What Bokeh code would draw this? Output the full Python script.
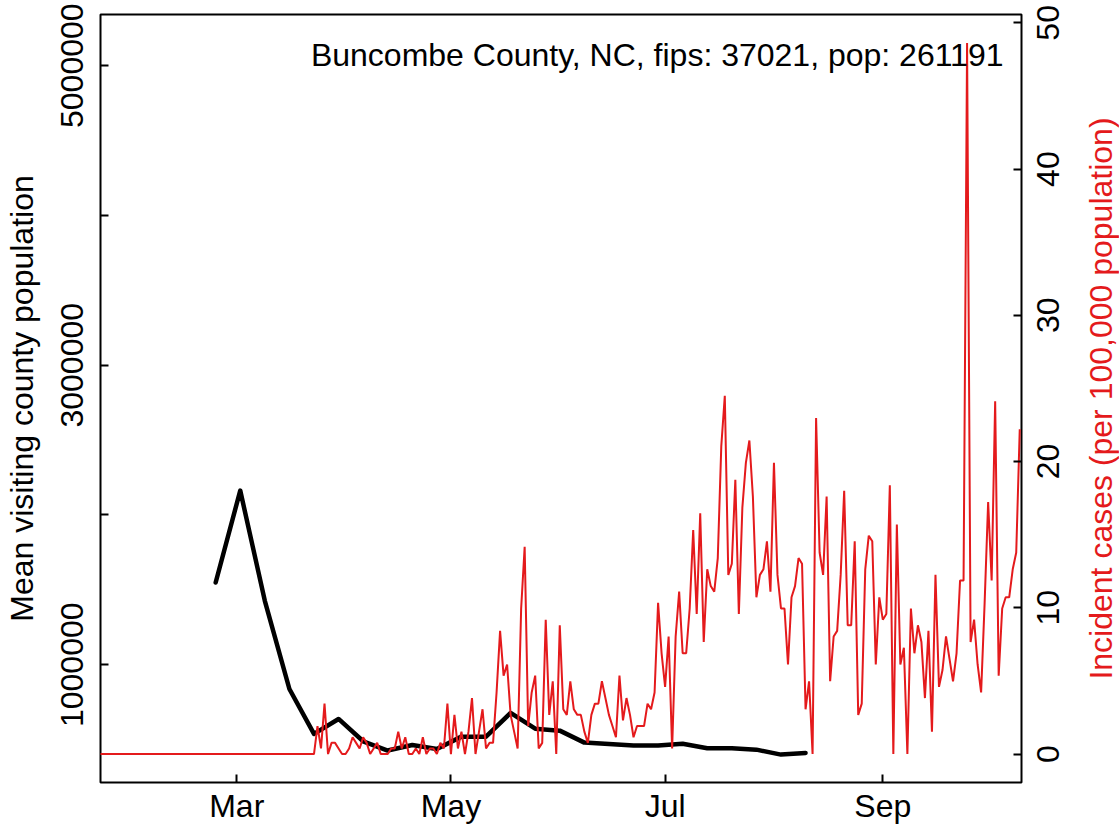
import math
import pandas as pd
from bokeh.plotting import figure
from bokeh.layouts import row
from bokeh.models import Range1d, LinearAxis, FixedTicker, Label
from bokeh.core.properties import value
from bokeh.embed import file_html
from bokeh.resources import INLINE

# ---------------- data ----------------
county_title = "Buncombe County, NC, fips: 37021, pop: 261191"
county_pop = 261191

left_axis_label = "Mean visiting county population"
right_axis_label = "Incident cases (per 100,000 population)"

x_tick_dates = ["2020-03-01", "2020-05-01", "2020-07-01", "2020-09-01"]
x_tick_labels = ["Mar", "May", "Jul", "Sep"]

left_tick_values = [1000000, 2000000, 3000000, 4000000, 5000000]
left_tick_labels = ["1000000", "", "3000000", "", "5000000"]

right_tick_values = [0, 10, 20, 30, 40, 50]
right_tick_labels = ["0", "10", "20", "30", "40", "50"]

# weekly mean visiting county population (black line)
mobility_dates = pd.date_range("2020-02-24", "2020-08-10", freq="7D")
mobility_values = [1549000, 2163000, 1427000, 838000, 538000, 638000, 489000,
                   427000, 464000, 438000, 520000, 520000, 678000, 573000,
                   560000, 480000, 470000, 460000, 460000, 473000, 442000,
                   442000, 433000, 400000, 411000]

# daily new cases (red line), 2020-01-22 .. 2020-10-10
case_dates = pd.date_range("2020-01-22", "2020-10-10", freq="D")
daily_cases = [
    0, 0, 0, 0, 0, 0, 0, 0, 0, 0,
    0, 0, 0, 0, 0, 0, 0, 0, 0, 0,
    0, 0, 0, 0, 0, 0, 0, 0, 0, 0,
    0, 0, 0, 0, 0, 0, 0, 0, 0, 0,
    0, 0, 0, 0, 0, 0, 0, 0, 0, 0,
    0, 0, 0, 0, 0, 0, 0, 0, 0, 0,
    0,
    0, 5, 1, 9, 0, 2, 2, 1, 0, 0,
    1, 3, 2, 1, 3, 2, 0, 1, 2, 0,
    0, 0, 1, 1, 4, 1, 3, 0, 0, 1,
    0, 3, 0, 1, 1, 0, 2, 1, 9, 0,
    7, 1, 4, 0, 4, 10, 0, 4, 8, 1,
    2, 2, 11, 22, 14, 16, 7, 4, 1, 26,
    37, 5, 11, 14, 1, 2, 24, 7, 13, 0,
    23, 8, 7, 13, 8, 7, 7, 4, 2, 7,
    9, 9, 13, 10, 7, 5, 3, 14, 6, 10,
    7, 3, 5, 5, 5, 9, 8, 11, 27, 18,
    12, 21, 1, 21, 29, 18, 18, 26, 40, 25,
    43, 20, 33, 30, 29, 35, 55, 64, 32, 34,
    49, 25, 44, 52, 56, 46, 28, 32, 33, 38,
    29, 52, 32, 26, 26, 16, 28, 30, 35, 34,
    8, 13, 0, 60, 36, 32, 46, 13, 21, 22,
    32, 47, 23, 23, 38, 7, 9, 33, 39, 38,
    16, 28, 24, 25, 48, 0, 41, 16, 19, 0,
    26, 18, 23, 20, 10, 22, 4, 32, 12, 15,
    21, 17, 13, 18, 31, 31, 127, 20, 24, 16,
    11, 27, 45, 31, 63, 14, 26, 28, 28, 33,
    36, 58,
]
assert len(daily_cases) == len(case_dates)

# ---------------- derived ----------------
origin = pd.Timestamp("2020-01-01")
def to_day(d):
    return (pd.to_datetime(d) - origin).days

mob_x = [to_day(d) for d in mobility_dates]
case_x = [to_day(d) for d in case_dates]
incidence = [c / county_pop * 1e5 for c in daily_cases]
x_tick_pos = [to_day(d) for d in x_tick_dates]

FONT = "Liberation Sans"
FS = "32px"
RED = "#E41A1C"

# layout (px)
H = 831
TOP, BOTTOM = 14, 49
MAIN_W = 1023
SIDE_W = 1119 - MAIN_W

x_range = Range1d(21.2, 283.5)
y_left = Range1d(213700, 5342000)
y_right = Range1d(-1.945, 50.57)

p = figure(width=MAIN_W, height=H,
           x_range=x_range, y_range=y_left,
           output_backend="svg", toolbar_location=None,
           min_border_left=99, min_border_right=2,
           min_border_top=TOP, min_border_bottom=BOTTOM)
p.extra_y_ranges = {"cases": y_right}

p.background_fill_color = "white"
p.border_fill_color = "white"
p.outline_line_color = "black"
p.outline_line_width = 2
p.xgrid.grid_line_color = None
p.ygrid.grid_line_color = None

def style_axis(ax):
    ax.axis_line_color = None
    ax.major_tick_in = 8
    ax.major_tick_out = 0
    ax.major_tick_line_width = 2
    ax.major_tick_line_color = "black"
    ax.minor_tick_line_color = None
    ax.major_label_text_font = FONT
    ax.major_label_text_font_size = FS
    ax.major_label_text_color = "black"
    ax.axis_label_text_font = FONT
    ax.axis_label_text_font_size = FS
    ax.axis_label_text_font_style = "normal"
    ax.axis_label_text_color = "black"

# bottom axis
xa = p.xaxis[0]
style_axis(xa)
xa.ticker = FixedTicker(ticks=x_tick_pos, minor_ticks=[])
xa.major_label_overrides = {k: v for k, v in zip(x_tick_pos, x_tick_labels)}
xa.major_label_standoff = 5

# left axis
ya = p.yaxis[0]
style_axis(ya)
ya.ticker = FixedTicker(ticks=left_tick_values, minor_ticks=[])
ya.major_label_overrides = {k: v for k, v in zip(left_tick_values, left_tick_labels)}
ya.major_label_orientation = "vertical"
ya.major_label_standoff = 17
ya.axis_label = left_axis_label
ya.axis_label_standoff = 19

# right axis: only inward ticks here, labels drawn in the side panel
ra = LinearAxis(y_range_name="cases")
style_axis(ra)
ra.ticker = FixedTicker(ticks=right_tick_values, minor_ticks=[])
ra.major_label_overrides = {k: "" for k in right_tick_values}
ra.major_label_text_font_size = "1px"
ra.major_label_standoff = 0
p.add_layout(ra, "right")

# lines
p.line(mob_x, mobility_values, line_color="black", line_width=4.5,
       line_join="round", line_cap="round")
p.line(case_x, incidence, line_color=RED, line_width=2, y_range_name="cases")

# county text
p.add_layout(Label(x=x_range.end, y=y_right.end,
                   y_range_name="cases", x_offset=-18, y_offset=-40,
                   text=county_title, text_align="right",
                   text_baseline="middle", text_font=FONT,
                   text_font_size=FS, text_color="black"))

# ---------------- side panel for the right-hand labels ----------------
frame_h = H - TOP - BOTTOM
per_px = (y_right.end - y_right.start) / frame_h
side_y = Range1d(y_right.start - BOTTOM * per_px, y_right.end + TOP * per_px)

s = figure(width=SIDE_W, height=H, x_range=Range1d(0, SIDE_W), y_range=side_y,
           output_backend="svg", toolbar_location=None,
           x_axis_location=None, y_axis_location=None,
           min_border_left=0, min_border_right=0,
           min_border_top=0, min_border_bottom=0)
if "frame_align" in s.properties():
    s.frame_align = False
    p.frame_align = False
s.outline_line_color = None
s.background_fill_color = "white"
s.border_fill_color = "white"
for g in s.grid:
    g.visible = False

s.text(x=[24] * len(right_tick_values), y=right_tick_values, text=right_tick_labels,
       angle=math.pi / 2, text_align="center", text_baseline="middle",
       text_font=value(FONT), text_font_size=FS, text_color="black")
s.text(x=[77], y=[(y_right.start + y_right.end) / 2], text=[right_axis_label],
       angle=math.pi / 2, text_align="center", text_baseline="middle",
       text_font=value(FONT), text_font_size=FS, text_color=RED)

layout = row(p, s, spacing=0)
open("out.html", "w").write(file_html(layout, INLINE))
